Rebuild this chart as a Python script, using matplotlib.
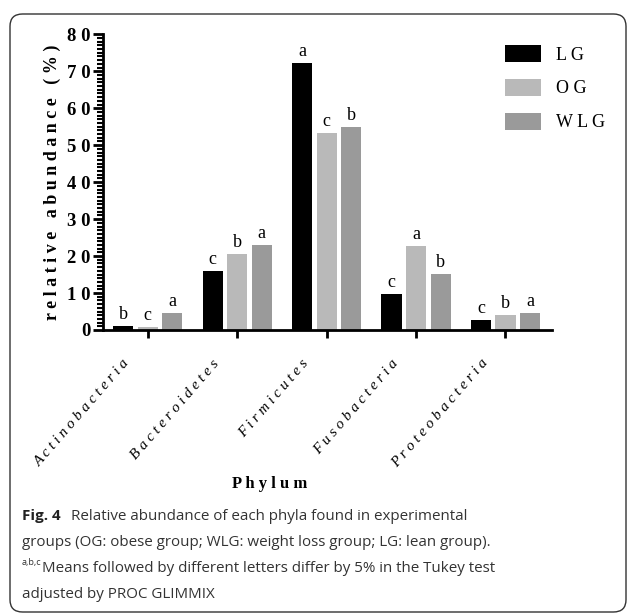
import numpy as np
import matplotlib
matplotlib.use("Agg")
import matplotlib.pyplot as plt
from matplotlib import font_manager
from matplotlib.patches import FancyBboxPatch, Patch
from matplotlib.ticker import MultipleLocator
import matplotlib.transforms as mtransforms

# data
phyla = ['Actinobacteria', 'Bacteroidetes', 'Firmicutes', 'Fusobacteria', 'Proteobacteria']
groups = ['LG', 'OG', 'WLG']
lg = [1.1, 16.0, 72.2, 9.7, 2.7]
og = [0.8, 20.6, 53.4, 22.7, 4.0]
wlg = [4.7, 23.1, 55.0, 15.2, 4.5]
lg_letters = ['b', 'c', 'a', 'c', 'c']
og_letters = ['c', 'b', 'c', 'a', 'b']
wlg_letters = ['a', 'a', 'b', 'b', 'a']
yticks = [0, 10, 20, 30, 40, 50, 60, 70, 80]

caption = ['Relative abundance of each phyla found in experimental',
           'groups (OG: obese group; WLG: weight loss group; LG: lean group).',
           'Means followed by different letters differ by 5% in the Tukey test',
           'adjusted by PROC GLIMMIX']

colors = ['#000000', '#b9b9b9', '#9a9a9a']
serif = 'Liberation Serif'

installed = {f.name for f in font_manager.fontManager.ttflist}
sans = next(f for f in ['Liberation Sans Narrow', 'Open Sans', 'DejaVu Sans'] if f in installed)

def spaced(s):
    return ' '.join(s)

fig = plt.figure(figsize=(6.29, 6.15), dpi=100)
W, H = 629, 615

# rounded frame round the whole figure
frame = FancyBboxPatch((10 / W, 3 / H), 616 / W, 598 / H,
                       boxstyle='round,pad=0,rounding_size=0.02',
                       transform=fig.transFigure, facecolor='none',
                       edgecolor='#333333', linewidth=1.0)
fig.patches.append(frame)

ax = fig.add_axes([103 / W, 1 - 330 / H, 449 / W, 295.7 / H])

x = np.arange(len(phyla))
width = 0.225
step = 0.275
series = [lg, og, wlg]
letters = [lg_letters, og_letters, wlg_letters]
for i, (vals, col, lets) in enumerate(zip(series, colors, letters)):
    pos = x + (i - 1) * step
    ax.bar(pos, vals, width=width, color=col, edgecolor='none')
    for p, v, t in zip(pos, vals, lets):
        ax.text(p, v + 0.8, t, ha='center', va='bottom', fontsize=13,
                family=serif)

ax.set_xlim(-0.5, 4.52)
ax.set_ylim(0, 80)
ax.set_yticks(yticks)
ax.set_yticklabels([spaced(str(v)) for v in yticks], fontsize=13.5,
                   family=serif, fontweight='bold')
ax.yaxis.set_minor_locator(MultipleLocator(1))
ax.tick_params(axis='y', which='major', length=7, width=2, pad=2)
ax.tick_params(axis='y', which='minor', length=4, width=1.5)
ax.tick_params(axis='x', length=6, width=2)

ax.set_xticks(x)
ax.set_xticklabels([spaced(p) for p in phyla], rotation=49, ha='right',
                   va='center', rotation_mode='anchor', fontsize=10.8,
                   family=serif, style='italic')
offset = mtransforms.ScaledTranslation(-20 / 100, -18 / 100, fig.dpi_scale_trans)
for lab in ax.get_xticklabels():
    lab.set_transform(lab.get_transform() + offset)

for s in ['top', 'right']:
    ax.spines[s].set_visible(False)
for s in ['left', 'bottom']:
    ax.spines[s].set_linewidth(2)

ax.set_ylabel(spaced('relative') + '   ' + spaced('abundance') + '   ( % )',
              fontsize=13, family=serif, fontweight='bold', labelpad=4)
fig.text(270 / W, 1 - 484 / H, spaced('Phylum'), ha='center',
         va='center', fontsize=12, family=serif, fontweight='bold')

handles = [Patch(facecolor=c, edgecolor='none') for c in colors]
ax.legend(handles, [spaced(g) for g in groups], loc='upper left',
          bbox_to_anchor=((505 - 103) / 449, (330 - 45) / 295.7),
          frameon=False, borderpad=0, borderaxespad=0, handlelength=2.0,
          handleheight=1.05, handletextpad=0.85, labelspacing=0.85,
          prop={'family': serif, 'size': 13})

# caption
fs = 12.5
fig.canvas.draw()
r = fig.canvas.get_renderer()
probe = fig.text(0, 0, caption[1], fontsize=fs, family=sans)
w = probe.get_window_extent(r).width
probe.remove()
fs = fs * 469 / w

cap_x = 22 / W
ys = [516, 543, 569, 595]
fig4 = fig.text(cap_x, 1 - ys[0] / H, 'Fig. 4', fontsize=fs, family=sans,
                fontweight='bold', va='center', color='#222222')
x1 = fig4.get_window_extent(r).x1
fig.text((x1 + 10) / W, 1 - ys[0] / H, caption[0], fontsize=fs, family=sans,
         va='center', color='#333333')
fig.text(cap_x, 1 - ys[1] / H, caption[1], fontsize=fs, family=sans,
         va='center', color='#333333')
sup = fig.text(cap_x, 1 - (ys[2] - 6) / H, 'a,b,c', fontsize=fs * 0.6,
               family=sans, va='center', color='#333333')
x2 = sup.get_window_extent(r).x1
fig.text(x2 / W, 1 - ys[2] / H, caption[2], fontsize=fs, family=sans,
         va='center', color='#333333')
fig.text(cap_x, 1 - ys[3] / H, caption[3], fontsize=fs, family=sans,
         va='center', color='#333333')

fig.savefig('out.png', dpi=100)
